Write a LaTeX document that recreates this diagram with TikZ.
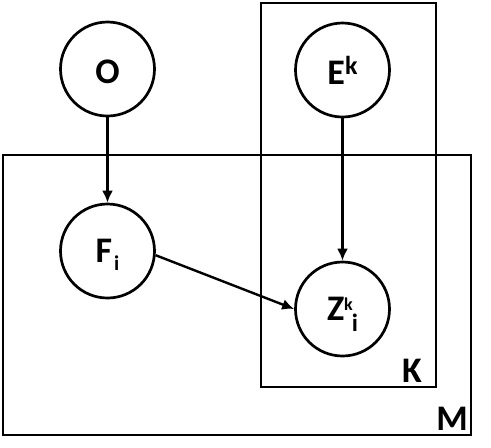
\documentclass[tikz,border=0pt]{standalone}
\usepackage{fontspec}
\setmainfont{Carlito}
\usetikzlibrary{arrows.meta}

% raised or lowered index: raise, size, text
\newcommand{\idx}[3]{\raisebox{#1}{\fontsize{#2}{#2}\selectfont #3}}

\begin{document}
\begin{tikzpicture}[x=1pt, y=-1pt, >={Latex[length=12pt,width=11pt]},
    var/.style={circle, draw, line width=2.7pt, minimum size=94pt, inner sep=0pt,
        font=\fontsize{36}{42}\selectfont\bfseries},
    plate/.style={draw, line width=2.7pt},
    platelabel/.style={inner sep=0pt, font=\fontsize{36}{42}\selectfont\bfseries},
    edge/.style={->, line width=2.4pt}]

    \useasboundingbox (0,0) rectangle (491,448);

    % Plates
    \draw[plate] (261,3) rectangle (436,387);
    \draw[plate] (3,155) rectangle (471,435);
    \node[platelabel] (labK) at (412,371) {K};
    \node[platelabel] (labM) at (452,419) {M};

    % Variables
    \node[var, text height=29pt] (O) at (107.5,69) {O};
    \node[var] (E) at (342.5,70) {E\idx{10pt}{26}{k}};
    \node[var] (F) at (107.5,251) {F\hspace{2pt}\smash{\idx{-8pt}{21}{i}}};
    \node[var] (Z) at (342.5,309) {Z\idx{10pt}{18}{k}\hspace{-1pt}\smash{\idx{-11pt}{25}{i}}};

    % Edges
    \draw[edge] (O) -- (F);
    \draw[edge] (E) -- (Z);
    \draw[edge] (F.-5) -- (Z.west);

\end{tikzpicture}
\end{document}
